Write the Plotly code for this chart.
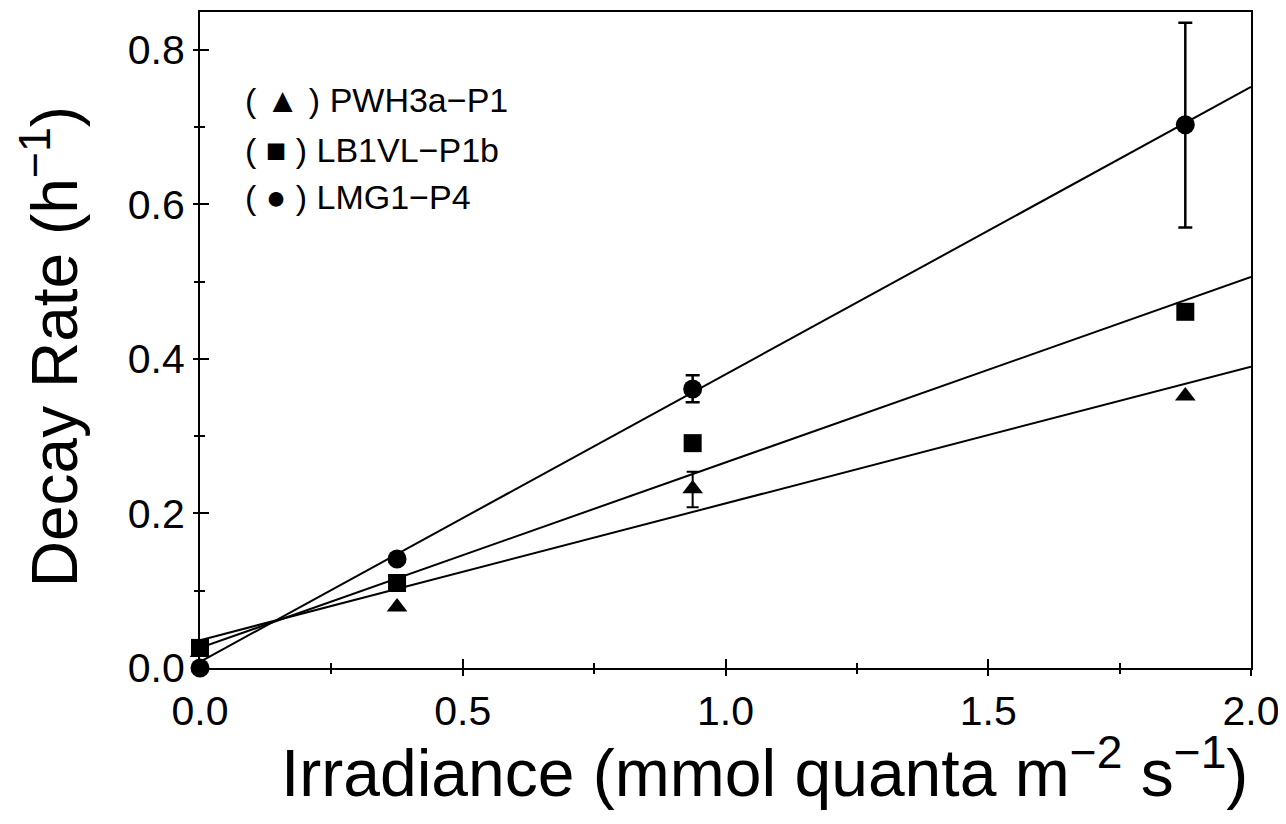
import plotly.graph_objects as go

# ---- data ----
irradiance = [0.0, 0.375, 0.9375, 1.875]

pwh_name = "PWH3a−P1"
pwh_rate = [0.02, 0.079, 0.232, 0.352]
pwh_err_plus = [0.0, 0.0, 0.022, 0.0]
pwh_err_minus = [0.0, 0.0, 0.024, 0.0]

lb_name = "LB1VL−P1b"
lb_rate = [0.026, 0.11, 0.291, 0.461]

lmg_name = "LMG1−P4"
lmg_rate = [0.0, 0.141, 0.361, 0.703]
lmg_err_plus = [0.0, 0.0, 0.018, 0.132]
lmg_err_minus = [0.0, 0.0, 0.017, 0.133]

fit_x = [0.0, 2.0]
pwh_fit = [0.036, 0.390]
lb_fit = [0.026, 0.506]
lmg_fit = [0.008, 0.752]

x_ticks = [0.0, 0.5, 1.0, 1.5, 2.0]
x_tick_labels = ["0.0", "0.5", "1.0", "1.5", "2.0"]
y_ticks = [0.0, 0.2, 0.4, 0.6, 0.8]
y_tick_labels = ["0.0", "0.2", "0.4", "0.6", "0.8"]

legend_rows = ["( ▲ ) " + pwh_name, "( ■ ) " + lb_name, "( ● ) " + lmg_name]

x_title = "Irradiance (mmol quanta m<sup>−2</sup> s<sup>−1</sup>)"
y_title = "Decay Rate (h<sup>−1</sup>)"

FONT = "Liberation Sans"
BLACK = "black"

fig = go.Figure()

for fy in [pwh_fit, lb_fit, lmg_fit]:
    fig.add_trace(go.Scatter(x=fit_x, y=fy, mode="lines",
                             line=dict(color=BLACK, width=2),
                             showlegend=False, hoverinfo="skip", cliponaxis=False))

fig.add_trace(go.Scatter(
    x=irradiance, y=pwh_rate, mode="markers", name=pwh_name,
    marker=dict(symbol="triangle-up", size=18, color=BLACK),
    error_y=dict(type="data", array=pwh_err_plus, arrayminus=pwh_err_minus,
                 color=BLACK, thickness=2, width=6, visible=True),
    showlegend=False, cliponaxis=False))
fig.add_trace(go.Scatter(
    x=irradiance, y=lb_rate, mode="markers", name=lb_name,
    marker=dict(symbol="square", size=18, color=BLACK),
    showlegend=False, cliponaxis=False))
fig.add_trace(go.Scatter(
    x=irradiance, y=lmg_rate, mode="markers", name=lmg_name,
    marker=dict(symbol="circle", size=19, color=BLACK),
    error_y=dict(type="data", array=lmg_err_plus, arrayminus=lmg_err_minus,
                 color=BLACK, thickness=2.5, width=7, visible=True),
    showlegend=False, cliponaxis=False))

# dummy trace to activate overlay axes (for inward tick halves)
fig.add_trace(go.Scatter(x=[None], y=[None], xaxis="x2", yaxis="y2", showlegend=False))

XR = [0, 2.0]
YR = [0, 0.849]

fig.update_layout(
    width=1278, height=816,
    margin=dict(l=192, r=35, t=4, b=156, autoexpand=False),
    paper_bgcolor="white", plot_bgcolor="white",
    font=dict(family=FONT, color=BLACK),
    xaxis=dict(range=XR, tickvals=x_ticks, ticktext=x_tick_labels, automargin=False,
               showgrid=False, zeroline=False, showline=True, linecolor=BLACK,
               linewidth=2, mirror=True, ticks="outside", ticklen=6, tickwidth=2,
               tickcolor=BLACK, tickfont=dict(size=41, family=FONT),
               minor=dict(tickvals=[0.25, 0.75, 1.25, 1.75], ticks="outside",
                          ticklen=4, tickwidth=2, tickcolor=BLACK)),
    yaxis=dict(range=YR, tickvals=y_ticks, ticktext=y_tick_labels, automargin=False,
               showgrid=False, zeroline=False, showline=True, linecolor=BLACK,
               linewidth=2, mirror=True, ticks="outside", ticklen=5, tickwidth=2,
               tickcolor=BLACK, tickfont=dict(size=41, family=FONT),
               minor=dict(tickvals=[0.1, 0.3, 0.5, 0.7], ticks="outside",
                          ticklen=4, tickwidth=2, tickcolor=BLACK)),
    xaxis2=dict(range=XR, overlaying="x", anchor="y", side="bottom",
                tickvals=x_ticks, showticklabels=False, showgrid=False,
                zeroline=False, showline=False, ticks="inside", ticklen=9,
                tickwidth=2, tickcolor=BLACK,
                minor=dict(tickvals=[0.25, 0.75, 1.25, 1.75], ticks="inside",
                           ticklen=5, tickwidth=2, tickcolor=BLACK)),
    yaxis2=dict(range=YR, overlaying="y", anchor="x", side="left",
                tickvals=y_ticks, showticklabels=False, showgrid=False,
                zeroline=False, showline=False, ticks="inside", ticklen=9,
                tickwidth=2, tickcolor=BLACK,
                minor=dict(tickvals=[0.1, 0.3, 0.5, 0.7], ticks="inside",
                           ticklen=5, tickwidth=2, tickcolor=BLACK)),
    showlegend=False,
)

# legend rows as text
legend_y = [0.866, 0.79, 0.718]
for row, ly in zip(legend_rows, legend_y):
    fig.add_annotation(xref="paper", yref="paper", x=0.041, y=ly,
                       xanchor="left", yanchor="middle", showarrow=False,
                       text=row, font=dict(size=34, family=FONT, color=BLACK))

# x title, right of centre as in the original
fig.add_annotation(xref="paper", yref="paper", x=0.537, y=-0.152,
                   xanchor="center", yanchor="middle", showarrow=False,
                   text=x_title, font=dict(size=66, family=FONT, color=BLACK))

# y title at the far left edge, as in the original
fig.add_annotation(xref="paper", yref="paper", x=-0.143, y=0.49,
                   xanchor="center", yanchor="middle", showarrow=False,
                   textangle=-90, text=y_title,
                   font=dict(size=64, family=FONT, color=BLACK))

fig.write_html("out.html")
